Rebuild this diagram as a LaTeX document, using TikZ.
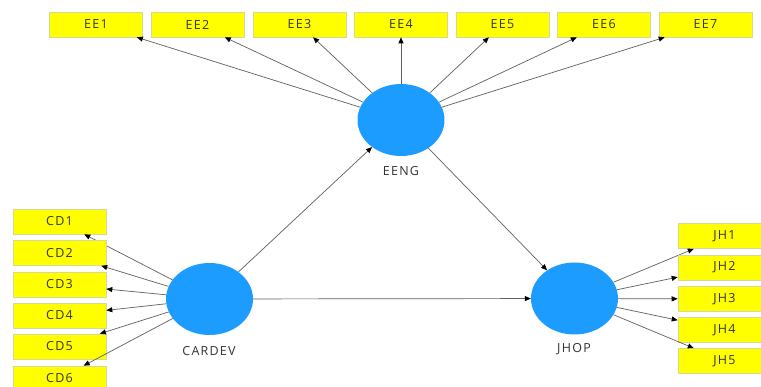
\documentclass[tikz,border=0pt]{standalone}
\usepackage{fontspec}
\setmainfont{Open Sans}
\newfontfamily\lblfont[LetterSpace=10]{Open Sans}
\usetikzlibrary{arrows.meta,shapes.geometric}
\definecolor{lvblue}{RGB}{28,156,255}
\definecolor{indyel}{RGB}{255,255,0}
\definecolor{indborder}{RGB}{215,215,150}
\definecolor{linegray}{RGB}{95,95,95}
\definecolor{txt}{RGB}{51,51,51}
\begin{document}
\begin{tikzpicture}[x=1pt,y=-1pt,
  latent/.style={ellipse,fill=lvblue,draw=none,minimum width=87pt,minimum height=72pt,inner sep=0pt},
  indic/.style={rectangle,fill=indyel,draw=indborder,line width=0.6pt,minimum width=93pt,minimum height=25pt,inner sep=0pt,font=\lblfont\fontsize{12.5}{14}\selectfont,text=txt},
  lvlabel/.style={font=\lblfont\fontsize{12.5}{14}\selectfont,text=txt},
  conn/.style={draw=linegray,line width=0.7pt,-{Triangle[length=6pt,width=5pt,fill=black,color=black]}}]
\clip (0,0) rectangle (761,387);
\fill[white] (0,0) rectangle (761,387);
% latent variables
\node[latent] (EENG) at (401,120) {};
\node[latent] (CARDEV) at (209.5,299) {};
\node[latent] (JHOP) at (574.5,298.5) {};
\node[lvlabel] (lEENG) at (401,171) {EENG};
\node[lvlabel] (lCARDEV) at (209,351) {CARDEV};
\node[lvlabel] (lJHOP) at (574,349) {JHOP};
% EE indicators
\foreach \i/\x in {1/96,2/197.5,3/299.5,4/401,5/502.5,6/604,7/705.5}{
  \node[indic] (EE\i) at (\x,24.5) {EE\i};
  \draw[conn] (EENG) -- (EE\i);
}
% CD indicators
\foreach \i/\y in {1/221.5,2/253,3/284.5,4/315.5,5/346.5,6/378.5}{
  \node[indic] (CD\i) at (59.5,\y) {CD\i};
  \draw[conn] (CARDEV) -- (CD\i);
}
% JH indicators
\foreach \i/\y in {1/236,2/267.5,3/299,4/330,5/361}{
  \node[indic] (JH\i) at (724.5,\y) {JH\i};
  \draw[conn] (JHOP) -- (JH\i);
}
% structural paths
\draw[conn] (CARDEV) -- (EENG);
\draw[conn] (EENG) -- (JHOP);
\draw[conn] (CARDEV) -- (JHOP);
\end{tikzpicture}
\end{document}
